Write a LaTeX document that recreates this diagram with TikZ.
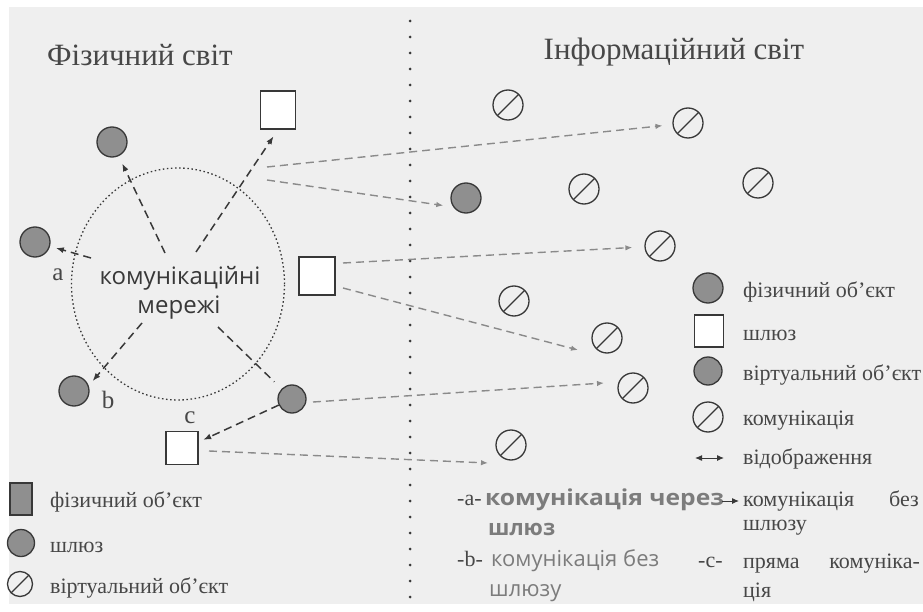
\documentclass[tikz,border=0pt]{standalone}
\usepackage{fontspec}
\setmainfont{Liberation Serif}
\newfontfamily\labelsans{Open Sans}
\newfontfamily\widesans[FakeStretch=1.12]{Open Sans}
\usetikzlibrary{arrows.meta,shapes.geometric}

\definecolor{paper}{HTML}{EFEFEF}
\definecolor{ink}{HTML}{383838}
\definecolor{words}{HTML}{474747}
\definecolor{objgray}{HTML}{8F8F8F}
\definecolor{mapgray}{HTML}{8A8A8A}
\definecolor{notegray}{HTML}{7C7C7C}

\tikzset{
  physobj/.style={circle, draw=ink, fill=objgray, line width=1.3pt, minimum size=30pt, inner sep=0pt},
  gateway/.style={rectangle, draw=ink, fill=white, line width=1.3pt, minimum width=34pt, minimum height=36pt, inner sep=0pt},
  virtobj/.style={circle, draw=ink, line width=1.3pt, minimum size=30pt, inner sep=0pt,
    path picture={\draw[ink, line width=1.3pt] (path picture bounding box.south west) -- (path picture bounding box.north east);}},
  netlink/.style={draw=ink, line width=1.5pt, dash pattern=on 8pt off 5pt, -{Latex[length=8pt,width=6pt]}},
  maplink/.style={draw=mapgray, line width=1.4pt, dash pattern=on 8pt off 5pt, -{Latex[length=7pt,width=5.5pt]}},
  worldtitle/.style={font=\fontsize{31}{36}\selectfont, text=words, inner sep=0pt},
  legend/.style={font=\fontsize{22}{26}\selectfont, text=words, anchor=base west, inner sep=0pt},
  tag/.style={font=\fontsize{25}{28}\selectfont, text=words, anchor=base, inner sep=0pt},
  nettext/.style={font=\labelsans\fontsize{24}{28}\selectfont, text=ink, anchor=base, inner sep=0pt},
  notea/.style={font=\labelsans\bfseries\fontsize{22}{26}\selectfont, text=notegray, anchor=base west, inner sep=0pt},
  noteb/.style={font=\labelsans\fontsize{22}{26}\selectfont, text=notegray, anchor=base west, inner sep=0pt},
  keytip/.style={-{Latex[length=7pt,width=6pt]}},
}

\begin{document}
\begin{tikzpicture}[x=1pt,y=-1pt]
\useasboundingbox (0,0) rectangle (923,612);
\fill[paper] (9,7) rectangle (923,604);

% boundary between the two worlds
\draw[ink, line width=3pt, line cap=round, dash pattern=on 0pt off 16pt] (410,21) -- (410,600);

% headings
\node[worldtitle] (tphys) at (140,55) {Фізичний світ};
\node[worldtitle] (tinfo) at (674,52) {Інформаційний світ};

% communication network
\node[ellipse, draw=ink, line width=1.3pt, dash pattern=on 1.5pt off 2.6pt,
      minimum width=213pt, minimum height=232pt, inner sep=0pt] (net) at (178,284) {};
\node[nettext] (netl1) at (180,284) {комунікаційні};
\node[nettext] (netl2) at (179,313) {мережі};

% physical world objects
\node[physobj] (p1) at (112,142) {};
\node[physobj] (p2) at (35,242) {};
\node[physobj] (p3) at (74,391) {};
\node[physobj, minimum size=28pt] (p4) at (292,399) {};
\node[gateway, minimum width=35pt, minimum height=38pt] (g1) at (278,110) {};
\node[gateway, minimum width=36pt, minimum height=38pt] (g2) at (317,276) {};
\node[gateway, minimum width=32pt, minimum height=33pt] (g3) at (182,448) {};

\node[tag] (la) at (58,280) {a};
\node[tag] (lb) at (108,408) {b};
\node[tag] (lc) at (190,423) {c};

% information world objects
\node[physobj] (ip) at (466,198) {};
\node[virtobj] (v1) at (508,105) {};
\node[virtobj] (v2) at (688,123) {};
\node[virtobj] (v3) at (584,189) {};
\node[virtobj] (v4) at (758,183) {};
\node[virtobj] (v5) at (660,246) {};
\node[virtobj] (v6) at (514,301) {};
\node[virtobj] (v7) at (607,338) {};
\node[virtobj] (v8) at (633,388) {};
\node[virtobj] (v9) at (511,445) {};

% links through the network
\coordinate (s1) at (165,253);
\coordinate (s2) at (196,252);
\coordinate (s3) at (91,258);
\coordinate (s4) at (142,323);
\coordinate (s5) at (218,327);
\draw[netlink, shorten >=8pt] (s1) -- (p1);
\draw[netlink, shorten >=8pt] (s2) -- (g1.south);
\draw[netlink, shorten >=6pt] (s3) -- (p2);
\draw[netlink, shorten >=6pt] (s4) -- (p3.20);
\draw[netlink, -, shorten >=10pt] (s5) -- (p4);
\draw[netlink, shorten >=5pt] (p4) -- (g3.20);

% mappings into the information world
\coordinate (m1) at (267,167);
\coordinate (m2) at (267,180);
\coordinate (m3) at (343,263);
\coordinate (m4) at (343,288);
\coordinate (t4) at (578,350);
\coordinate (m5) at (313,402);
\coordinate (t5) at (604,383);
\coordinate (m6) at (209,451);
\coordinate (t6) at (488,463);
\draw[maplink, shorten >=10pt] (m1) -- (v2);
\draw[maplink, shorten >=10pt] (m2) -- (ip.215);
\draw[maplink, shorten >=12pt] (m3) -- (v5);
\draw[maplink] (m4) -- (t4);
\draw[maplink] (m5) -- (t5);
\draw[maplink] (m6) -- (t6);

% legend, right
\node[physobj] (kp) at (708,288) {};
\node[legend] (kpt) at (743,297) {фізичний об’єкт};
\node[gateway, minimum width=29pt, minimum height=32pt] (kg) at (709,331) {};
\node[legend] (kgt) at (743,340) {шлюз};
\node[physobj, minimum size=28pt] (kv) at (708,371) {};
\node[legend] (kvt) at (743,380) {віртуальний об’єкт};
\node[virtobj] (kc) at (708,417) {};
\node[legend] (kct) at (743,425) {комунікація};
\coordinate (km0) at (709,458);
\coordinate (km1) at (695,458);
\coordinate (km2) at (724,458);
\draw[ink, line width=1pt, keytip] (km0) -- (km1);
\draw[ink, line width=1pt, keytip] (km0) -- (km2);
\node[legend] (kmt) at (743,464) {відображення};

% legend, bottom notes
\node[legend] (na0) at (457,505) {-a-};
\node[notea, font=\widesans\bfseries\fontsize{22}{26}\selectfont] (na) at (485,505) {комунікація через};
\coordinate (ka1) at (722,501);
\coordinate (ka2) at (739,501);
\draw[ink, line width=1pt, keytip] (ka1) -- (ka2);
\node[legend] (nr1) at (743,506) {комунікація};
\node[legend, anchor=base east] (nr2) at (919,506) {без};
\node[legend] (nr3) at (743,530) {шлюзу};
\node[notea] (na2) at (488,535) {шлюз};
\node[legend] (nb0) at (457,566) {-b-};
\node[noteb] (nb) at (491,566) {комунікація без};
\node[noteb] (nb2) at (489,596) {шлюзу};
\node[legend] (nc) at (698,567) {-c-};
\node[legend] (nc1) at (743,568) {пряма};
\node[legend, anchor=base east] (nc1b) at (920,568) {комуніка-};
\node[legend] (nc2) at (743,597) {ція};

% legend, left
\node[rectangle, draw=ink, fill=objgray, line width=1.3pt, minimum width=22pt, minimum height=32pt, inner sep=0pt] (hp) at (21,499) {};
\node[legend] (hpt) at (50,507) {фізичний об’єкт};
\node[physobj, minimum size=27pt] (hg) at (21,543) {};
\node[legend] (hgt) at (50,552) {шлюз};
\node[virtobj, minimum size=25pt] (hv) at (20,584) {};
\node[legend] (hvt) at (50,593) {віртуальний об’єкт};
\end{tikzpicture}
\end{document}
